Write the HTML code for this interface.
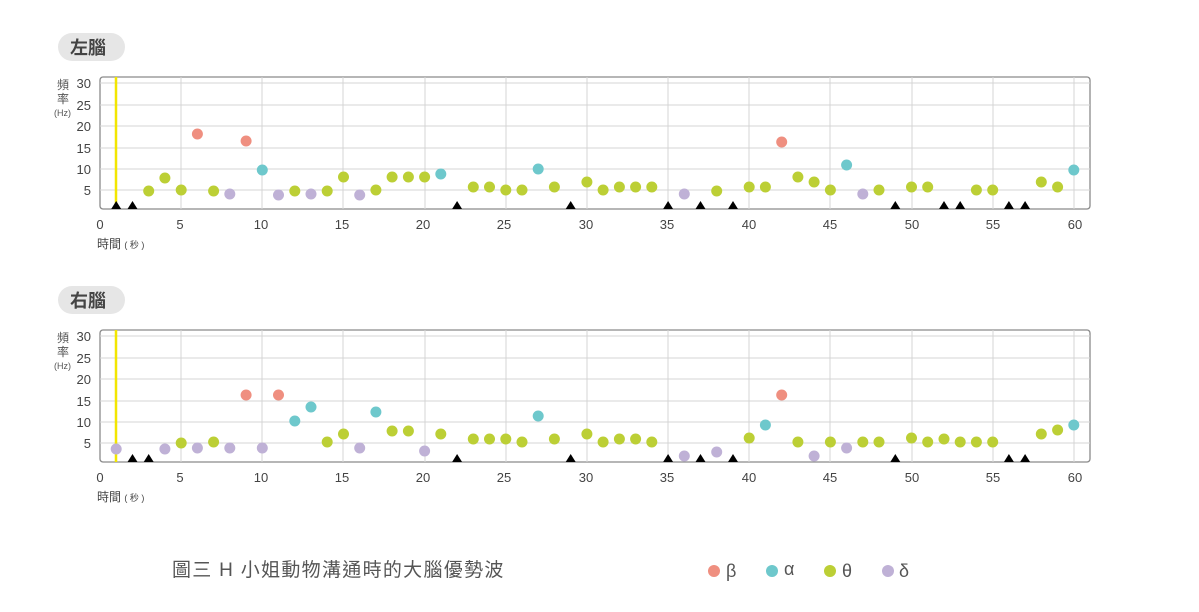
<!DOCTYPE html>
<html><head><meta charset="utf-8"><style>
body{margin:0;background:#fff;width:1199px;height:612px;overflow:hidden}
svg{display:block;font-family:"Liberation Sans","Noto Sans CJK TC",sans-serif}
</style></head><body>
<svg width="1199" height="612" viewBox="0 0 1199 612">
<defs>
<g id="frame">
  <rect x="100" y="77" width="990" height="132" rx="3" fill="#fff" stroke="#8a8a8a" stroke-width="1.3"/>
  <g stroke="#d4d4d4" stroke-width="1">
    <line x1="100" y1="83" x2="1090" y2="83"/><line x1="100" y1="105" x2="1090" y2="105"/>
    <line x1="100" y1="126" x2="1090" y2="126"/><line x1="100" y1="148" x2="1090" y2="148"/>
    <line x1="100" y1="169" x2="1090" y2="169"/><line x1="100" y1="190" x2="1090" y2="190"/>
    <line x1="181" y1="77" x2="181" y2="209"/><line x1="262" y1="77" x2="262" y2="209"/>
    <line x1="343" y1="77" x2="343" y2="209"/><line x1="425" y1="77" x2="425" y2="209"/>
    <line x1="506" y1="77" x2="506" y2="209"/><line x1="587" y1="77" x2="587" y2="209"/>
    <line x1="668" y1="77" x2="668" y2="209"/><line x1="749" y1="77" x2="749" y2="209"/>
    <line x1="830" y1="77" x2="830" y2="209"/><line x1="912" y1="77" x2="912" y2="209"/>
    <line x1="993" y1="77" x2="993" y2="209"/><line x1="1074" y1="77" x2="1074" y2="209"/>
  </g>
  <line x1="116" y1="77" x2="116" y2="209" stroke="#f2e600" stroke-width="2.5"/>
  <g font-size="13" fill="#444" text-anchor="end">
    <text x="91" y="88">30</text><text x="91" y="110">25</text><text x="91" y="131">20</text>
    <text x="91" y="153">15</text><text x="91" y="174">10</text><text x="91" y="195">5</text>
  </g>
  <text x="57" y="89" font-size="12" fill="#555">頻</text>
  <text x="57" y="103" font-size="12" fill="#555">率</text>
  <text x="54" y="116" font-size="9" fill="#555">(Hz)</text>
  <g font-size="13" fill="#444" text-anchor="middle">
    <text x="100" y="229">0</text><text x="180" y="229">5</text><text x="261" y="229">10</text>
    <text x="342" y="229">15</text><text x="423" y="229">20</text><text x="504" y="229">25</text>
    <text x="586" y="229">30</text><text x="667" y="229">35</text><text x="749" y="229">40</text>
    <text x="830" y="229">45</text><text x="912" y="229">50</text><text x="993" y="229">55</text>
    <text x="1075" y="229">60</text>
  </g>
  <text x="97" y="248" font-size="12" fill="#444">時間 <tspan font-size="9">( 秒 )</tspan></text>
</g>
<path id="tri" d="M-5,0 L5,0 L0,-8 Z" fill="#000"/>
</defs>

<rect x="58" y="33" width="67" height="28" rx="14" fill="#e6e6e6"/>
<text x="70" y="54" font-size="18" font-weight="bold" fill="#444">左腦</text>
<rect x="58" y="286" width="67" height="28" rx="14" fill="#e6e6e6"/>
<text x="70" y="307" font-size="18" font-weight="bold" fill="#444">右腦</text>

<use href="#frame"/>
<use href="#frame" transform="translate(0,253)"/>

<g>
<g transform="translate(0,209)">
<use href="#tri" x="116.2"/><use href="#tri" x="132.5"/><use href="#tri" x="457.1"/><use href="#tri" x="570.7"/>
<use href="#tri" x="668.1"/><use href="#tri" x="700.5"/><use href="#tri" x="733"/><use href="#tri" x="895.3"/>
<use href="#tri" x="944"/><use href="#tri" x="960.2"/><use href="#tri" x="1008.9"/><use href="#tri" x="1025.1"/>
</g>
<g fill="#bccf35">
<circle cx="148.7" cy="191" r="5.5"/><circle cx="164.9" cy="178" r="5.5"/><circle cx="181.2" cy="190" r="5.5"/>
<circle cx="213.6" cy="191" r="5.5"/><circle cx="294.8" cy="191" r="5.5"/><circle cx="327.2" cy="191" r="5.5"/>
<circle cx="343.5" cy="177" r="5.5"/><circle cx="375.9" cy="190" r="5.5"/><circle cx="392.1" cy="177" r="5.5"/>
<circle cx="408.4" cy="177" r="5.5"/><circle cx="424.6" cy="177" r="5.5"/><circle cx="473.3" cy="187" r="5.5"/>
<circle cx="489.5" cy="187" r="5.5"/><circle cx="505.8" cy="190" r="5.5"/><circle cx="522" cy="190" r="5.5"/>
<circle cx="554.4" cy="187" r="5.5"/><circle cx="586.9" cy="182" r="5.5"/><circle cx="603.1" cy="190" r="5.5"/>
<circle cx="619.4" cy="187" r="5.5"/><circle cx="635.6" cy="187" r="5.5"/><circle cx="651.8" cy="187" r="5.5"/>
<circle cx="716.7" cy="191" r="5.5"/><circle cx="749.2" cy="187" r="5.5"/><circle cx="765.4" cy="187" r="5.5"/>
<circle cx="797.9" cy="177" r="5.5"/><circle cx="814.1" cy="182" r="5.5"/><circle cx="830.4" cy="190" r="5.5"/>
<circle cx="879" cy="190" r="5.5"/><circle cx="911.5" cy="187" r="5.5"/><circle cx="927.7" cy="187" r="5.5"/>
<circle cx="976.4" cy="190" r="5.5"/><circle cx="992.7" cy="190" r="5.5"/><circle cx="1041.3" cy="182" r="5.5"/>
<circle cx="1057.6" cy="187" r="5.5"/>
</g>
<g fill="#bfb1d6">
<circle cx="229.8" cy="194" r="5.5"/><circle cx="278.5" cy="195" r="5.5"/><circle cx="311" cy="194" r="5.5"/>
<circle cx="359.7" cy="195" r="5.5"/><circle cx="684.3" cy="194" r="5.5"/><circle cx="862.8" cy="194" r="5.5"/>
</g>
<g fill="#ef8f80">
<circle cx="197.4" cy="134" r="5.5"/><circle cx="246.1" cy="141" r="5.5"/><circle cx="781.7" cy="142" r="5.5"/>
</g>
<g fill="#6ec8cc">
<circle cx="262.3" cy="170" r="5.5"/><circle cx="440.8" cy="174" r="5.5"/><circle cx="538.2" cy="169" r="5.5"/>
<circle cx="846.6" cy="165" r="5.5"/><circle cx="1073.8" cy="170" r="5.5"/>
</g>
</g>

<g>
<g transform="translate(0,462)">
<use href="#tri" x="132.5"/><use href="#tri" x="148.7"/><use href="#tri" x="457.1"/><use href="#tri" x="570.7"/>
<use href="#tri" x="668.1"/><use href="#tri" x="700.5"/><use href="#tri" x="733"/><use href="#tri" x="895.3"/>
<use href="#tri" x="1008.9"/><use href="#tri" x="1025.1"/>
</g>
<g fill="#bccf35">
<circle cx="181.2" cy="443" r="5.5"/><circle cx="213.6" cy="442" r="5.5"/><circle cx="327.2" cy="442" r="5.5"/>
<circle cx="343.5" cy="434" r="5.5"/><circle cx="392.1" cy="431" r="5.5"/><circle cx="408.4" cy="431" r="5.5"/>
<circle cx="440.8" cy="434" r="5.5"/><circle cx="473.3" cy="439" r="5.5"/><circle cx="489.5" cy="439" r="5.5"/>
<circle cx="505.8" cy="439" r="5.5"/><circle cx="522" cy="442" r="5.5"/><circle cx="554.4" cy="439" r="5.5"/>
<circle cx="586.9" cy="434" r="5.5"/><circle cx="603.1" cy="442" r="5.5"/><circle cx="619.4" cy="439" r="5.5"/>
<circle cx="635.6" cy="439" r="5.5"/><circle cx="651.8" cy="442" r="5.5"/><circle cx="749.2" cy="438" r="5.5"/>
<circle cx="797.9" cy="442" r="5.5"/><circle cx="830.4" cy="442" r="5.5"/><circle cx="862.8" cy="442" r="5.5"/>
<circle cx="879" cy="442" r="5.5"/><circle cx="911.5" cy="438" r="5.5"/><circle cx="927.7" cy="442" r="5.5"/>
<circle cx="944" cy="439" r="5.5"/><circle cx="960.2" cy="442" r="5.5"/><circle cx="976.4" cy="442" r="5.5"/>
<circle cx="992.7" cy="442" r="5.5"/><circle cx="1041.3" cy="434" r="5.5"/><circle cx="1057.6" cy="430" r="5.5"/>
</g>
<g fill="#bfb1d6">
<circle cx="116.2" cy="449" r="5.5"/><circle cx="164.9" cy="449" r="5.5"/><circle cx="197.4" cy="448" r="5.5"/>
<circle cx="229.8" cy="448" r="5.5"/><circle cx="262.3" cy="448" r="5.5"/><circle cx="359.7" cy="448" r="5.5"/>
<circle cx="424.6" cy="451" r="5.5"/><circle cx="684.3" cy="456" r="5.5"/><circle cx="716.7" cy="452" r="5.5"/>
<circle cx="814.1" cy="456" r="5.5"/><circle cx="846.6" cy="448" r="5.5"/>
</g>
<g fill="#ef8f80">
<circle cx="246.1" cy="395" r="5.5"/><circle cx="278.5" cy="395" r="5.5"/><circle cx="781.7" cy="395" r="5.5"/>
</g>
<g fill="#6ec8cc">
<circle cx="294.8" cy="421" r="5.5"/><circle cx="311" cy="407" r="5.5"/><circle cx="375.9" cy="412" r="5.5"/>
<circle cx="538.2" cy="416" r="5.5"/><circle cx="765.4" cy="425" r="5.5"/><circle cx="1073.8" cy="425" r="5.5"/>
</g>
</g>

<text x="172" y="576" font-size="19" letter-spacing="1.3" fill="#555">圖三 H 小姐動物溝通時的大腦優勢波</text>
<g font-size="18" fill="#555">
<circle cx="714" cy="571" r="6" fill="#ef8f80"/><text x="726" y="577">β</text>
<circle cx="772" cy="571" r="6" fill="#6ec8cc"/><text x="784" y="575">α</text>
<circle cx="830" cy="571" r="6" fill="#bccf35"/><text x="842" y="577">θ</text>
<circle cx="888" cy="571" r="6" fill="#bfb1d6"/><text x="899" y="577">δ</text>
</g>
</svg>
</body></html>
